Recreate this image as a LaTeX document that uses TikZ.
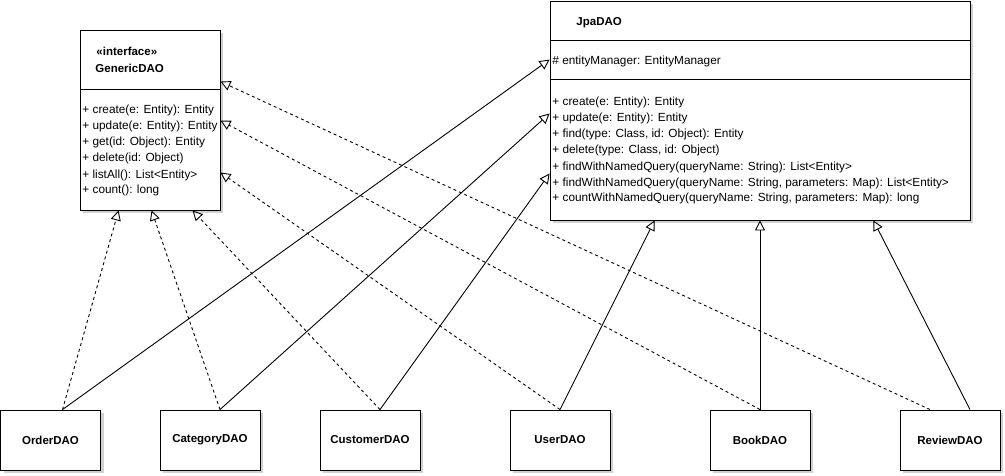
\documentclass[tikz,border=0pt]{standalone}
\usepackage{fontspec}
\setmainfont{Liberation Sans}
\usetikzlibrary{arrows.meta,shadows}

\begin{document}
\begin{tikzpicture}[x=1pt,y=1pt,line width=0.9pt,
		font=\fontsize{11.8}{13}\selectfont,
		box/.style={draw, fill=white, inner sep=0pt,
			general shadow={fill=black!18, draw=none, shadow xshift=3pt, shadow yshift=-3pt}},
		dao/.style={box, minimum width=100pt, minimum height=60pt, font=\fontsize{11.5}{13}\selectfont\bfseries},
		member/.style={anchor=base west, inner sep=0pt},
		realize/.style={dash pattern=on 3pt off 3pt, -{Triangle[open,length=10pt,width=10pt]}},
		extend/.style={-{Triangle[open,length=10pt,width=10pt]}}]
		\useasboundingbox (0,0) rectangle (1005,475);

		% interface GenericDAO
		\node[box, minimum width=140pt, minimum height=180pt] (generic) at (150,355) {};
		\draw ([yshift=-60pt]generic.north west) -- ([yshift=-60pt]generic.north east);
		\node[member, font=\fontsize{11.5}{13}\selectfont\bfseries] (stereo) at (96,419) {«interface»};
		\node[member, font=\fontsize{11.5}{13}\selectfont\bfseries] (genericName) at (95,402) {GenericDAO};
		\foreach \t [count=\i] in {+ create(e: Entity): Entity, + update(e: Entity): Entity,
			+ get(id: Object): Entity, + delete(id: Object), + listAll(): List<Entity>, + count(): long}{
			\node[member] (gm\i) at (82,377-16*\i) {\t};
		}

		% class JpaDAO
		\node[box, minimum width=420pt, minimum height=219pt] (jpa) at (760,364.5) {};
		\draw ([yshift=-40pt]jpa.north west) -- ([yshift=-40pt]jpa.north east);
		\draw ([yshift=-79pt]jpa.north west) -- ([yshift=-79pt]jpa.north east);
		\node[member, font=\fontsize{11.5}{13}\selectfont\bfseries] (jpaName) at (576,449) {JpaDAO};
		\node[member] (field) at (552,410) {\# entityManager: EntityManager};
		\foreach \t [count=\i] in {+ create(e: Entity): Entity, + update(e: Entity): Entity,
			{+ find(type: Class, id: Object): Entity}, {+ delete(type: Class, id: Object)},
			+ findWithNamedQuery(queryName: String): List<Entity>,
			{+ findWithNamedQuery(queryName: String, parameters: Map): List<Entity>},
			{+ countWithNamedQuery(queryName: String, parameters: Map): long}}{
			\node[member] (jm\i) at (552,385-16*\i) {\t};
		}

		% concrete DAOs
		\foreach \n/\x/\name in {order/50.5/OrderDAO, category/210/CategoryDAO, customer/370/CustomerDAO,
			user/560/UserDAO, book/760/BookDAO, review/950/ReviewDAO}{
			\node[dao] (\n) at (\x,35) {\name};
		}

		% implements GenericDAO
		\draw[realize] ([xshift=12pt]order.north) -- ([xshift=39pt]generic.south west);
		\draw[realize] ([xshift=10pt]category.north) -- ([xshift=72pt]generic.south west);
		\draw[realize] ([xshift=10pt]customer.north) -- ([xshift=113pt]generic.south west);
		\draw[realize] (user.north) -- ([yshift=-143pt]generic.north east);
		\draw[realize] (book.north) -- ([yshift=-91pt]generic.north east);
		\draw[realize] ([xshift=-20pt]review.north) -- ([yshift=-52pt]generic.north east);

		% extends JpaDAO
		\draw[extend] ([xshift=12pt]order.north) -- ([yshift=-59pt]jpa.north west);
		\draw[extend] ([xshift=10pt]category.north) -- ([yshift=-113pt]jpa.north west);
		\draw[extend] ([xshift=10pt]customer.north) -- ([yshift=-173pt]jpa.north west);
		\draw[extend] (user.north) -- ([xshift=105pt]jpa.south west);
		\draw[extend] (book.north) -- (jpa.south);
		\draw[extend] ([xshift=20pt]review.north) -- ([xshift=-97pt]jpa.south east);
\end{tikzpicture}
\end{document}
